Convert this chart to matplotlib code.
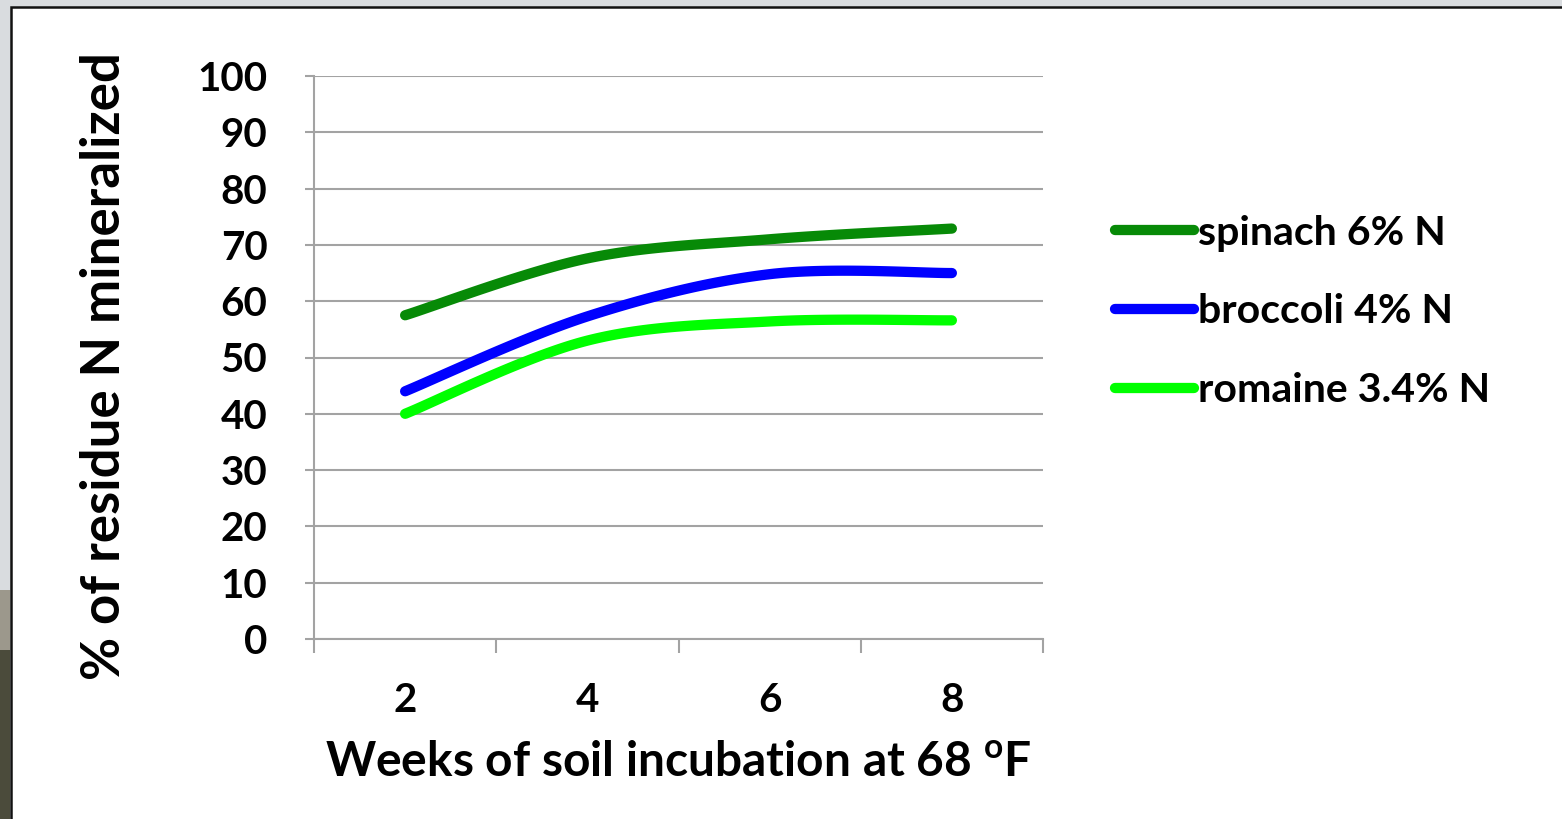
"""
Nitrogen mineralized from vegetable crop residues during a soil incubation.
Smoothed Excel-style lines over four weekly sampling points.
"""

import numpy as np
import matplotlib
matplotlib.use("Agg")
import matplotlib.pyplot as plt
from matplotlib.patches import Rectangle

plt.rcParams["font.family"] = ["Lato", "DejaVu Sans"]
plt.rcParams["font.weight"] = "bold"
plt.rcParams["mathtext.fontset"] = "custom"
plt.rcParams["mathtext.rm"] = "Lato:bold"
plt.rcParams["mathtext.bf"] = "Lato:bold"

# weeks of incubation (category axis)
weeks = [2, 4, 6, 8]
week_labels = ["2", "4", "6", "8"]

# % of residue N mineralized
spinach = [57.5, 67.6, 71.0, 72.9]
broccoli = [44.0, 57.3, 64.8, 65.0]
romaine = [40.0, 53.0, 56.4, 56.6]

series_names = ["spinach 6% N", "broccoli 4% N", "romaine 3.4% N"]
series_colors = ["#078a07", "#0000ff", "#00ff00"]

y_ticks = list(range(0, 101, 10))

GRID = "#a3a3a3"


def smooth(xs, ys, n=40):
    """Excel-like smoothed line: cubic Bezier with Catmull-Rom control points."""
    p = np.column_stack([xs, ys]).astype(float)
    ext = np.vstack([p[0], p, p[-1]])
    out = []
    t = np.linspace(0, 1, n)[:, None]
    for i in range(len(p) - 1):
        p0, p3 = ext[i + 1], ext[i + 2]
        c1 = p0 + (ext[i + 2] - ext[i]) / 6.0
        c2 = p3 - (ext[i + 3] - ext[i + 1]) / 6.0
        seg = ((1 - t) ** 3) * p0 + 3 * ((1 - t) ** 2) * t * c1 \
            + 3 * (1 - t) * t ** 2 * c2 + t ** 3 * p3
        out.append(seg if i == 0 else seg[1:])
    seg = np.vstack(out)
    return seg[:, 0], seg[:, 1]


fig = plt.figure(figsize=(15.62, 8.19), dpi=100, facecolor="#d9dcdf")
W, H = 1562, 819


def frect(x, y, w, h, **kw):
    # rectangle in figure pixels, y measured from the top; kept under the axes
    fig.patches.append(Rectangle((x / W, 1 - (y + h) / H), w / W, h / H,
                                 transform=fig.transFigure, zorder=-10, **kw))


# slide backdrop: photo strip on the left edge, white panel with dark border
frect(0, 590, 10, 60, facecolor="#9c988c", edgecolor="none")
frect(0, 650, 10, 169, facecolor="#4b4b3b", edgecolor="none")
frect(11, 7, 1560, 820, facecolor="white", edgecolor="#111111", linewidth=1.8)

ax = fig.add_axes([314 / W, 180 / H, 729 / W, 563 / H])
ax.set_facecolor("none")

for ys, name, col in zip([spinach, broccoli, romaine], series_names, series_colors):
    sx, sy = smooth(weeks, ys)
    ax.plot(sx, sy, color=col, lw=7.4, solid_capstyle="round", label=name)

ax.set_xlim(1, 9)
ax.set_ylim(0, 100)
ax.set_yticks(y_ticks)
ax.set_yticklabels([str(v) for v in y_ticks])
ax.yaxis.grid(True, color=GRID, lw=1.5)
ax.set_axisbelow(True)

# category boundaries carry the tick marks, labels sit between them
ax.set_xticks([1, 3, 5, 7, 9])
ax.set_xticklabels([])
ax.set_xticks(weeks, minor=True)
ax.set_xticklabels(week_labels, minor=True)
ax.tick_params(axis="x", which="major", length=10, width=1.5, color=GRID)
ax.tick_params(axis="x", which="minor", length=0, pad=31, labelsize=29)
ax.tick_params(axis="y", length=6.5, width=1.5, color=GRID, pad=27, labelsize=29)

for s in ["top", "right"]:
    ax.spines[s].set_visible(False)
for s in ["left", "bottom"]:
    ax.spines[s].set_color(GRID)
    ax.spines[s].set_linewidth(1.5)

ax.set_xlabel(r"Weeks of soil incubation at 68 $^\mathbf{o}$F", fontsize=34.5,
              fontweight="bold", labelpad=16)
fig.text(105 / W, 1 - 366 / H, "% of residue N mineralized", rotation=90,
         fontsize=38, fontweight="bold", ha="center", va="center")

leg = fig.legend(loc="center left", bbox_to_anchor=(1115 / W, 1 - 312 / H),
                 frameon=False, fontsize=29.5, handlelength=1.92,
                 handletextpad=0.1, labelspacing=1.02, borderpad=0,
                 borderaxespad=0)
for h in leg.get_lines():
    h.set_linewidth(7.4)
    h.set_solid_capstyle("round")

fig.savefig("out.png", dpi=100, facecolor=fig.get_facecolor())
